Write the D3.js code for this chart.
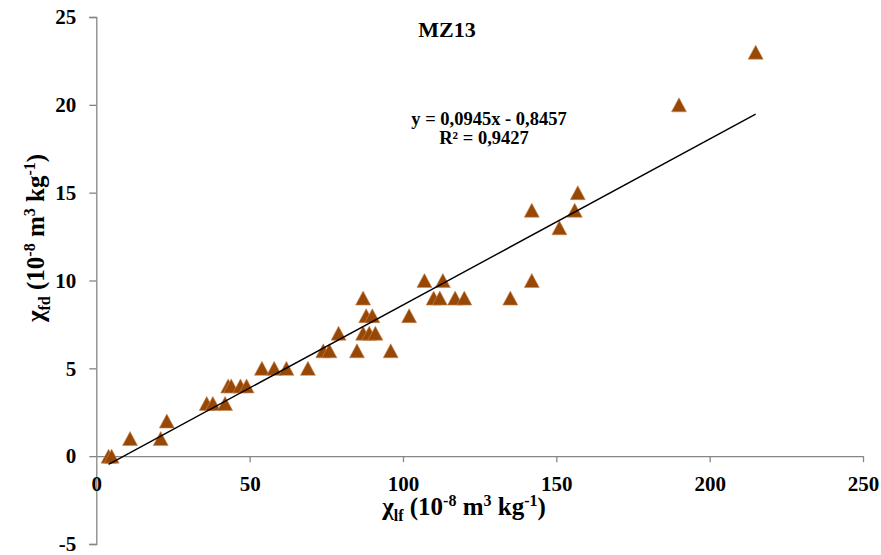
<!DOCTYPE html>
<html>
<head>
<meta charset="utf-8">
<script src="https://cdn.jsdelivr.net/npm/d3@7"></script>
<style>
html,body{margin:0;padding:0;background:#fff;}
svg{display:block;}
text{font-family:"Liberation Serif","Times New Roman",serif;font-weight:bold;fill:#000;}
</style>
</head>
<body>
<svg id="chart" width="881" height="555"></svg>
<script>
// Data
const xValues = [4, 5, 11, 21, 23, 36, 38, 42, 43, 44, 47, 49, 54, 58, 62, 69, 74, 76, 85, 96, 79, 87, 89, 91, 88, 90, 102, 87, 110, 112, 117, 120, 135, 107, 113, 142, 151, 142, 156, 157, 190, 215];
const yValues = [0, 0, 1, 1, 2, 3, 3, 3, 4, 4, 4, 4, 5, 5, 5, 5, 6, 6, 6, 6, 7, 7, 7, 7, 8, 8, 8, 9, 9, 9, 9, 9, 9, 10, 10, 10, 13, 14, 14, 15, 20, 23];
const xTicks = [0, 50, 100, 150, 200, 250];
const yTicks = [-5, 0, 5, 10, 15, 20, 25];
const trendSlope = 0.0945;
const trendIntercept = -0.8457;
const titleText = "MZ13";
const eqLine1 = "y = 0,0945x - 0,8457";
const eqLine2 = "R² = 0,9427";

const svg = d3.select("#chart");
const x = d3.scaleLinear().domain([0, 250]).range([96.3, 863]);
const y = d3.scaleLinear().domain([-5, 25]).range([544, 17]);
const axisColor = "#868686";
const fmt = d => String(d);

// Y axis (left)
const yAxis = d3.axisLeft(y).tickValues(yTicks).tickSize(7).tickPadding(13).tickFormat(fmt);
const gy = svg.append("g").attr("transform", `translate(${x(0)},0)`).call(yAxis);
gy.select(".domain").attr("stroke", axisColor).attr("stroke-width", 1.3);
gy.selectAll(".tick line").attr("stroke", axisColor).attr("stroke-width", 1.3);
gy.selectAll(".tick text").style("font-size", "21px").style("font-family", '"Liberation Serif",serif').style("font-weight", "bold").attr("fill", "#000");

// X axis at y=0
const xAxis = d3.axisBottom(x).tickValues(xTicks).tickSize(6).tickSizeOuter(0).tickPadding(14).tickFormat(fmt);
const gx = svg.append("g").attr("transform", `translate(0,${y(0)})`).call(xAxis);
gx.select(".domain").attr("stroke", axisColor).attr("stroke-width", 1.3);
gx.selectAll(".tick line").attr("stroke", axisColor).attr("stroke-width", 1.3);
gx.selectAll(".tick").filter(d => d === 0).select("line").remove();
gx.selectAll(".tick text").style("font-size", "21px").style("font-family", '"Liberation Serif",serif').style("font-weight", "bold").attr("fill", "#000");

// Points (triangles)
const pts = xValues.map((v, i) => [v, yValues[i]]);
const hw = 7.5, hh = 7;
svg.append("g").selectAll("path").data(pts).join("path")
  .attr("d", d => {
    const cx = x(d[0]), cy = y(d[1]);
    return `M${cx - hw},${cy + hh}L${cx + hw},${cy + hh}L${cx},${cy - hh}Z`;
  })
  .attr("fill", "#974806")
  .attr("stroke", "#c98a55")
  .attr("stroke-width", 0.6);

// Trend line
const xmin = d3.min(xValues), xmax = d3.max(xValues);
svg.append("line")
  .attr("x1", x(xmin)).attr("y1", y(trendSlope * xmin + trendIntercept))
  .attr("x2", x(xmax)).attr("y2", y(trendSlope * xmax + trendIntercept))
  .attr("stroke", "#000").attr("stroke-width", 1.4);

// Title
svg.append("text").attr("x", 447).attr("y", 37).attr("text-anchor", "middle")
  .style("font-size", "22px").text(titleText);

// Equation
svg.append("text").attr("x", 489).attr("y", 125).attr("text-anchor", "middle")
  .style("font-size", "18.5px").text(eqLine1);
svg.append("text").attr("x", 484).attr("y", 144).attr("text-anchor", "middle")
  .style("font-size", "18.5px").text(eqLine2);

// Axis label builder
function axisLabel(g, sub, big, small) {
  const dn = big * 0.22, up = big * 0.36;
  g.style("font-size", big + "px");
  g.append("tspan").text("χ");
  g.append("tspan").attr("dy", dn).style("font-size", small + "px").text(sub);
  g.append("tspan").attr("dy", -dn).text(" (10");
  g.append("tspan").attr("dy", -up).style("font-size", small + "px").text("-8");
  g.append("tspan").attr("dy", up).text(" m");
  g.append("tspan").attr("dy", -up).style("font-size", small + "px").text("3");
  g.append("tspan").attr("dy", up).text(" kg");
  g.append("tspan").attr("dy", -up).style("font-size", small + "px").text("-1");
  g.append("tspan").attr("dy", up).text(")");
}
const xl = svg.append("text").attr("x", 464).attr("y", 515).attr("text-anchor", "middle");
axisLabel(xl, "lf", 25, 16);
const yl = svg.append("text").attr("transform", "translate(44,238) rotate(-90)").attr("text-anchor", "middle");
axisLabel(yl, "fd", 25, 16);
</script>
</body>
</html>
